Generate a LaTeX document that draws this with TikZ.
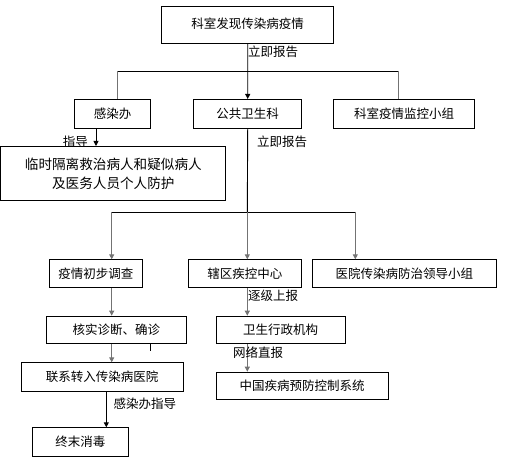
\documentclass[tikz,border=0pt]{standalone}
\usepackage{fontspec}
\setmainfont{Noto Sans CJK SC}
\usetikzlibrary{arrows.meta}
\tikzset{
  box/.style={draw=black, line width=0.8bp, anchor=north west, inner sep=0pt,
    font=\fontsize{12.5bp}{15bp}\selectfont, align=center},
  lbl/.style={inner sep=0pt, font=\fontsize{12.5bp}{15bp}\selectfont},
  conn/.style={draw=black!55, line width=0.9bp},
  spine/.style={draw=black, line width=0.9bp},
  arr/.style={-{Triangle[length=5bp,width=5bp]}},
}
\begin{document}
\begin{tikzpicture}[x=1bp,y=-1bp]
\useasboundingbox (0,0) rectangle (518,469);
% boxes
\node[box, minimum width=172bp, minimum height=37.3bp] (top) at (161.3,6) {\raisebox{3bp}{科室发现传染病疫情}};
\node[box, minimum width=76bp, minimum height=29.3bp] (gry) at (74.3,99) {感染办};
\node[box, minimum width=108bp, minimum height=29.3bp] (ggws) at (193.3,99) {公共卫生科};
\node[box, minimum width=141bp, minimum height=29.3bp] (ksjk) at (333.3,99) {科室疫情监控小组};
\node[box, minimum width=224.8bp, minimum height=54.3bp, font=\fontsize{13.6bp}{19.3bp}\selectfont] (lsgl) at (0.5,146) {临时隔离救治病人和疑似病人\\及医务人员个人防护};
\node[box, minimum width=92.7bp, minimum height=28bp] (yq) at (49,259.3) {疫情初步调查};
\node[box, minimum width=113.6bp, minimum height=28bp] (xq) at (187.7,259.3) {辖区疾控中心};
\node[box, minimum width=183.4bp, minimum height=28bp] (yy) at (312.3,259.3) {医院传染病防治领导小组};
\node[box, minimum width=139.7bp, minimum height=27.6bp] (hs) at (46,315.7) {核实诊断、确诊};
\node[box, minimum width=129bp, minimum height=27.6bp] (ws) at (215.7,315.7) {卫生行政机构};
\node[box, minimum width=162bp, minimum height=28.4bp] (lx) at (20.7,362.3) {联系转入传染病医院};
\node[box, minimum width=172bp, minimum height=27.6bp] (zg) at (215.7,371.7) {中国疾病预防控制系统};
\node[box, minimum width=96.6bp, minimum height=28.4bp] (zm) at (31.7,427.3) {终末消毒};
% column coordinates
\coordinate (b1) at (117.3,71);
\coordinate (b2) at (398,71);
\coordinate (cg) at (96,0);
\coordinate (d1) at (111.7,212);
\coordinate (d2) at (247.3,212);
\coordinate (d3) at (355.3,212);
\coordinate (cz) at (106.3,0);
\coordinate (tk) at (150.3,351);
% connectors
\draw[spine, arr] (top.south) -- (ggws.north);
\draw[spine] (b1) -- (b2);
\draw[conn] (b1) -- (b1 |- gry.north);
\draw[conn] (b2) -- (b2 |- ksjk.north);
\draw[spine, arr] (cg |- gry.south) -- (cg |- lsgl.north);
\draw[spine] (ggws.south) -- (d2);
\draw[spine] (d1) -- (d3);
\draw[conn, arr] (d1) -- (d1 |- yq.north);
\draw[conn, arr] (d2) -- (d2 |- xq.north);
\draw[conn, arr] (d3) -- (d3 |- yy.north);
\draw[conn, arr] (d1 |- yq.south) -- (d1 |- hs.north);
\draw[conn, arr] (d1 |- hs.south) -- (d1 |- lx.north);
\draw[spine, arr] (cz |- lx.south) -- (cz |- zm.north);
\draw[conn, arr] (d2 |- xq.south) -- (d2 |- ws.north);
\draw[conn, arr] (d2 |- ws.south) -- (d2 |- zg.north);
\draw[spine] (tk |- hs.south) -- (tk);
% labels
\node[lbl, anchor=west] (l1) at (248,52) {立即报告};
\node[lbl, anchor=east] (l2) at (88,141.7) {指导};
\node[lbl, anchor=west] (l3) at (257,141.7) {立即报告};
\node[lbl, anchor=west] (l4) at (248,296) {逐级上报};
\node[lbl, anchor=west] (l5) at (233,352.7) {网络直报};
\node[lbl, anchor=west] (l6) at (113.3,403.3) {感染办指导};
\end{tikzpicture}
\end{document}
